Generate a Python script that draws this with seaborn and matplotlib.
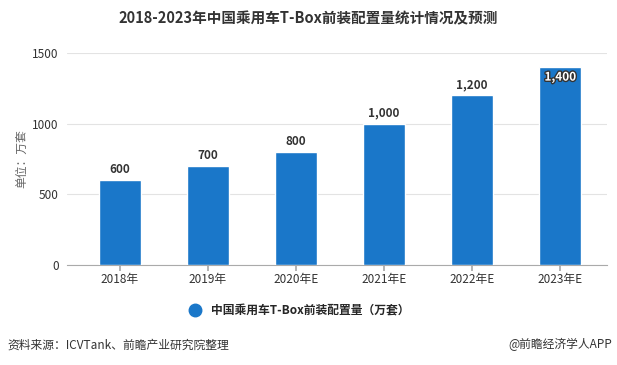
import pandas as pd
import matplotlib.pyplot as plt
import seaborn as sns
from matplotlib.lines import Line2D
import matplotlib.patheffects as pe

# chart data
years = ['2018年', '2019年', '2020年E', '2021年E', '2022年E', '2023年E']
volume = [600, 700, 800, 1000, 1200, 1400]
value_labels = ['600', '700', '800', '1,000', '1,200', '1,400']

df = pd.DataFrame({'year': years, 'volume': volume})

sns.set_theme(style='white')
plt.rcParams['font.family'] = ['Noto Sans CJK SC', 'DejaVu Sans']

bar_color = '#1a77c9'

fig = plt.figure(figsize=(6.17, 3.65), dpi=100)
ax = fig.add_axes([0.1086, 0.274, 0.875, 0.581])

sns.barplot(data=df, x='year', y='volume', color=bar_color, width=0.48,
            saturation=1, ax=ax, zorder=3)

ax.set_ylim(0, 1500)
ax.set_xlim(-0.6, 5.53)
ax.set_yticks([0, 500, 1000, 1500])
ax.yaxis.grid(True, color='#e3e3e3', linewidth=0.8, zorder=0)
ax.set_axisbelow(True)
for s in ['top', 'right', 'left']:
    ax.spines[s].set_visible(False)
ax.spines['bottom'].set_color('#aaaaaa')
ax.spines['bottom'].set_linewidth(0.8)
ax.tick_params(axis='x', length=4, color='#aaaaaa', labelsize=8.5, labelcolor='#333333', pad=2, bottom=True)
ax.tick_params(axis='y', length=0, labelsize=8.5, labelcolor='#333333', pad=6)
ax.set_xlabel('')
ax.set_ylabel('单位：万套', fontsize=8.5, color='#666666', labelpad=3)

# value labels
for i, (v, lab) in enumerate(zip(volume, value_labels)):
    if i == len(volume) - 1:
        t = ax.text(i, v - 25, lab, ha='center', va='top', fontsize=8.5,
                    fontweight='bold', color='white', zorder=5)
        t.set_path_effects([pe.withStroke(linewidth=2, foreground='#333333')])
    else:
        ax.text(i, v + 30, lab, ha='center', va='bottom', fontsize=8.5,
                fontweight='bold', color='#333333', zorder=5)

fig.text(0.5, 0.95, '2018-2023年中国乘用车T-Box前装配置量统计情况及预测',
         ha='center', va='center', fontsize=10.5, fontweight='bold', color='#333333')

handle = Line2D([], [], marker='o', linestyle='none', markersize=9,
                markerfacecolor=bar_color, markeredgecolor=bar_color)
fig.legend([handle], ['中国乘用车T-Box前装配置量（万套）'], loc='center',
           bbox_to_anchor=(0.48, 0.148), frameon=False, handletextpad=0.4,
           prop={'size': 8.5, 'weight': 'bold'})

fig.text(0.012, 0.055, '资料来源：ICVTank、前瞻产业研究院整理', ha='left', va='center',
         fontsize=8.5, color='#333333')
fig.text(0.992, 0.055, '@前瞻经济学人APP', ha='right', va='center',
         fontsize=8.5, color='#333333')

fig.savefig('out.png', dpi=100)
